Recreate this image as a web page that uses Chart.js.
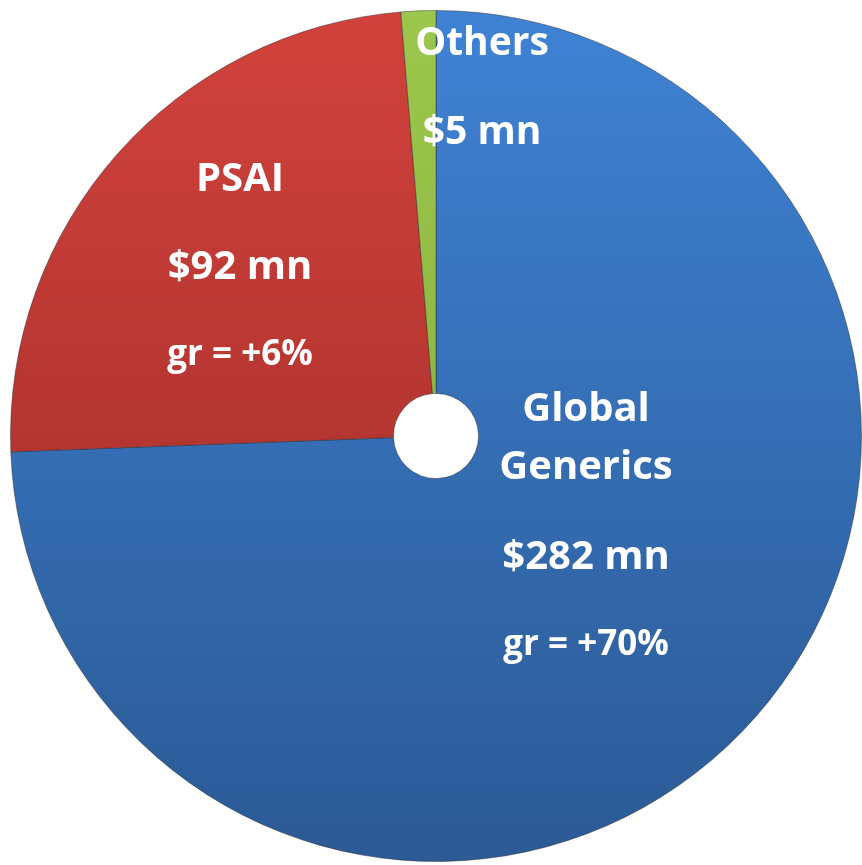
<!DOCTYPE html>
<html><head><meta charset="utf-8">
<script src="https://cdn.jsdelivr.net/npm/chart.js@4.4.1/dist/chart.umd.min.js"></script>
<style>html,body{margin:0;padding:0;background:#fff;}#wrap{width:862px;height:865px;position:relative;}</style>
</head><body><div id="wrap"><canvas id="c" width="862" height="865"></canvas></div>
<script>
const categories = ["Global Generics", "PSAI", "Others"];
const values = [282, 92, 5];
const valueLabels = ["$282 mn", "$92 mn", "$5 mn"];
const growthLabels = ["gr = +70%", "gr = +6%", ""];
const nameLines = [["Global", "Generics"], ["PSAI"], ["Others"]];

const gradStops = [["#3f82d4", "#2b5a95"], ["#d2423c", "#982926"], ["#9cc74c", "#7ea637"]];

function fillFor(ctx) {
  const chart = ctx.chart; const a = chart.chartArea;
  if (!a) return gradStops[ctx.dataIndex][0];
  const g = chart.ctx.createLinearGradient(0, a.top, 0, a.bottom);
  g.addColorStop(0, gradStops[ctx.dataIndex][0]);
  g.addColorStop(1, gradStops[ctx.dataIndex][1]);
  return g;
}

const labelPlugin = {
  id: 'labels',
  afterDatasetsDraw(chart) {
    const c = chart.ctx;
    const meta = chart.getDatasetMeta(0);
    const cx = meta.data[0].x, cy = meta.data[0].y;
    const blocks = [
      {dx: 150, lines: [[nameLines[0][0], -26, 40], [nameLines[0][1], 32, 40], [valueLabels[0], 122, 40], [growthLabels[0], 209, 35]]},
      {dx: -196, lines: [[nameLines[1][0], -256, 40], [valueLabels[1], -168, 40], [growthLabels[1], -81, 35]]},
      {dx: 46, lines: [[nameLines[2][0], -392, 39], [valueLabels[2], -303, 39]]}
    ];
    c.save();
    c.fillStyle = '#ffffff';
    c.textAlign = 'center';
    c.textBaseline = 'middle';
    blocks.forEach(b => b.lines.forEach(([t, dy, sz]) => {
      if (!t) return;
      c.font = 'bold ' + sz + 'px "Open Sans", "Liberation Sans", sans-serif';
      c.fillText(t, cx + b.dx, cy + dy);
    }));
    c.restore();
  }
};

new Chart(document.getElementById('c'), {
  type: 'doughnut',
  data: {
    labels: categories,
    datasets: [{
      data: values,
      backgroundColor: fillFor,
      borderColor: 'rgba(40,40,40,0.45)',
      borderWidth: 1
    }]
  },
  options: {
    responsive: false,
    animation: false,
    cutout: '10%',
    layout: {padding: {left: 10, right: 0, top: 10, bottom: 3}},
    plugins: {legend: {display: false}, tooltip: {enabled: false}}
  },
  plugins: [labelPlugin]
});
</script></body></html>
